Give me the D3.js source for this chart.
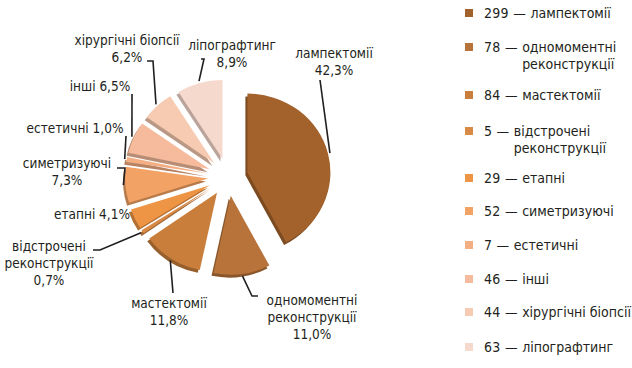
<!DOCTYPE html>
<html>
<head>
<meta charset="utf-8">
<script src="https://cdn.jsdelivr.net/npm/d3@7"></script>
<style>
  body { margin: 0; background: #fff; }
  svg text { font-family: "DejaVu Sans Condensed", "Liberation Sans Narrow", "Roboto Condensed", Roboto, sans-serif; fill: #231f20; }
</style>
</head>
<body>
<div id="chart"></div>
<script>
// data
const categories = ["лампектомії", "одномоментні реконструкції", "мастектомії", "відстрочені реконструкції",
  "етапні", "симетризуючі", "естетичні", "інші", "хірургічні біопсії", "ліпографтинг"];
const counts = [299, 78, 84, 5, 29, 52, 7, 46, 44, 63];
const percents = ["42,3%", "11,0%", "11,8%", "0,7%", "4,1%", "7,3%", "1,0%", "6,5%", "6,2%", "8,9%"];
const colors = ["#a3622c", "#b8733a", "#c97e3b", "#d98a45", "#ee9545", "#f2a264",
  "#f4ae84", "#f5bb9c", "#f7cab2", "#f6d9cd"];

// label lines next to the pie (slice index, lines, text centre, first baseline, leader path start)
const pieLabels = [
  { i: 0, lines: ["лампектомії", "42,3%"], x: 334, y: 58, lead: [[320, 80]] },
  { i: 1, lines: ["одномоментні", "реконструкції", "11,0%"], x: 312, y: 305, lead: [[258, 296], [252, 296]] },
  { i: 2, lines: ["мастектомії", "11,8%"], x: 169, y: 308, lead: [[173, 293]] },
  { i: 3, lines: ["відстрочені", "реконструкції", "0,7%"], x: 49, y: 251, lead: [[93, 250], [100, 250]] },
  { i: 4, lines: ["етапні 4,1%"], x: 92, y: 219, lead: null },
  { i: 5, lines: ["симетризуючі", "7,3%"], x: 67, y: 168, lead: [[117, 168], [125, 168]] },
  { i: 6, lines: ["естетичні 1,0%"], x: 75, y: 133, lead: [[126, 136]] },
  { i: 7, lines: ["інші 6,5%"], x: 100, y: 91, lead: [[132, 94]] },
  { i: 8, lines: ["хірургічні біопсії", "6,2%"], x: 127, y: 45, lead: [[147, 61], [153, 61]] },
  { i: 9, lines: ["ліпографтинг", "8,9%"], x: 232, y: 50, lead: [[201, 59], [204, 59]] }
];

const width = 632, height = 368;
const svg = d3.select("#chart").append("svg")
  .attr("width", width)
  .attr("height", height);

// pie geometry
const cx = 228, cy = 177, r = 83, sy = 0.95, explode = 20;

const pie = d3.pie().sort(null).value(d => d)(counts);
const arc = d3.arc().innerRadius(0).outerRadius(r);

function offset(d, dist) {
  const m = (d.startAngle + d.endAngle) / 2;
  return [Math.sin(m) * dist, -Math.cos(m) * dist];
}

const g = svg.append("g").attr("transform", `translate(${cx},${cy}) scale(1,${sy})`);

// thickness (darker copy shifted down-left)
g.selectAll("path.side")
  .data(pie)
  .join("path")
  .attr("class", "side")
  .attr("d", arc)
  .attr("fill", (d, i) => d3.color(colors[i]).darker(0.8))
  .attr("transform", d => {
    const o = offset(d, explode);
    return `translate(${o[0] - 2},${o[1] + 3})`;
  });

g.selectAll("path.top")
  .data(pie)
  .join("path")
  .attr("class", "top")
  .attr("d", arc)
  .attr("fill", (d, i) => colors[i])
  .attr("transform", d => {
    const o = offset(d, explode);
    return `translate(${o[0]},${o[1]})`;
  });

// labels + leader lines
const lab = svg.append("g").attr("font-size", 13.5);
pieLabels.forEach(l => {
  const t = lab.append("text").attr("text-anchor", "middle");
  l.lines.forEach((s, k) => {
    t.append("tspan").attr("x", l.x).attr("y", l.y + k * 17).text(s);
  });
  if (l.lead) {
    const d = pie[l.i];
    const o = offset(d, explode + r + 2);
    const end = [cx + o[0], cy + o[1] * sy];
    lab.append("path")
      .attr("d", d3.line()([...l.lead, end]))
      .attr("fill", "none")
      .attr("stroke", "#231f20")
      .attr("stroke-width", 1.6);
  }
});

// legend
const legY = [13, 47, 95, 131, 178, 211, 245, 279, 312, 347];
const leg = svg.append("g").attr("font-size", 14);
counts.forEach((c, i) => {
  const y = legY[i];
  leg.append("rect")
    .attr("x", 465).attr("y", y - 4).attr("width", 8).attr("height", 8)
    .attr("fill", colors[i]);
  // only the "реконструкції" entries wrap onto a second line
  const parts = categories[i].split(" реконструкції");
  const t = leg.append("text").attr("x", 484).attr("y", y + 5);
  const head = t.append("tspan").attr("letter-spacing", 0.3).text(`${c} — `);
  t.append("tspan").text(parts[0]);
  if (parts.length > 1) {
    const w = head.node().getComputedTextLength();
    leg.append("text").attr("x", 484 + w).attr("y", y + 22).text("реконструкції");
  }
});
</script>
</body>
</html>
